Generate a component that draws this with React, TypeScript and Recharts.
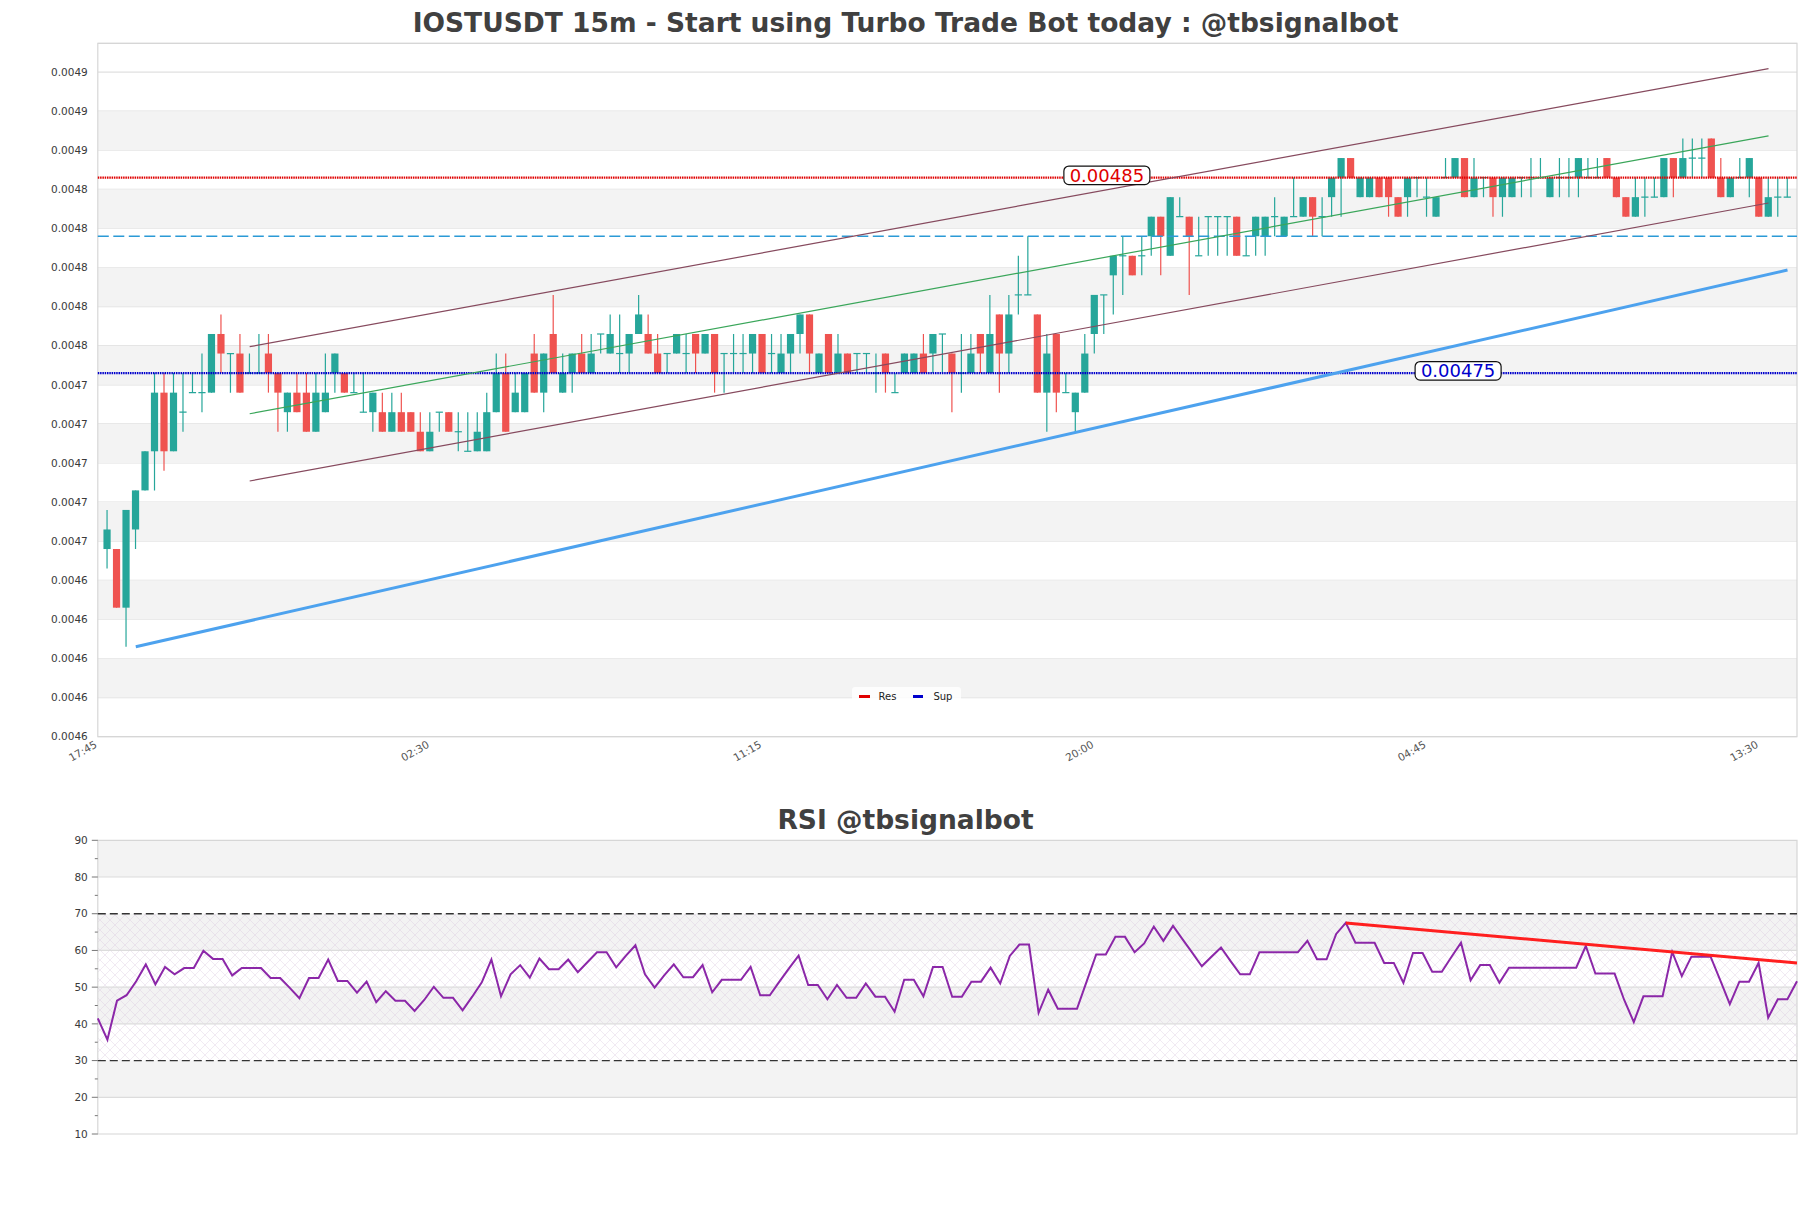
import React from 'react';
import {
  ComposedChart,
  Bar,
  Line,
  XAxis,
  YAxis,
  CartesianGrid,
  ReferenceLine,
  ReferenceArea,
  ReferenceDot,
  Legend,
} from 'recharts';

const W = 1811;

// 15m candles, prices in units of 0.00001 USDT
const opens = [
  466, 466, 463, 467, 469, 471, 474, 471, 473, 474,
  474, 474, 477, 476, 476, 475, 475, 476, 475, 473,
  474, 474, 472, 473, 475, 475, 474, 473, 473, 473,
  472, 473, 473, 472, 471, 473, 473, 472, 471, 471,
  471, 473, 475, 473, 473, 476, 474, 477, 474, 475,
  476, 475, 477, 476, 476, 476, 477, 477, 476, 476,
  476, 476, 477, 476, 477, 476, 476, 476, 476, 477,
  476, 475, 476, 477, 478, 475, 477, 475, 476, 476,
  476, 475, 476, 474, 475, 475, 476, 476, 477, 476,
  475, 475, 477, 475, 478, 476, 479, 479, 478, 474,
  477, 474, 473, 474, 477, 479, 480, 481, 481, 481,
  482, 483, 481, 483, 483, 481, 483, 483, 483, 483,
  481, 482, 482, 483, 482, 483, 483, 484, 483, 484,
  485, 486, 484, 484, 485, 485, 484, 484, 485, 484,
  483, 485, 485, 486, 484, 485, 485, 484, 484, 485,
  485, 485, 484, 485, 485, 485, 485, 485, 486, 485,
  484, 483, 484, 484, 484, 486, 485, 486, 486, 487,
  485, 484, 485, 485, 485, 483, 484, 484,
];
const highs = [
  468, 466, 468, 469, 471, 475, 475, 475, 475, 475,
  476, 477, 478, 476, 477, 476, 477, 477, 475, 474,
  475, 475, 475, 476, 476, 475, 475, 475, 474, 474,
  474, 474, 473, 473, 473, 473, 473, 473, 473, 473,
  474, 476, 476, 475, 475, 477, 476, 479, 476, 476,
  477, 477, 477, 478, 478, 477, 479, 478, 477, 476,
  477, 477, 477, 477, 477, 476, 477, 477, 477, 477,
  477, 477, 477, 478, 478, 476, 477, 477, 476, 476,
  476, 476, 476, 475, 476, 476, 477, 477, 477, 476,
  477, 477, 477, 479, 478, 479, 481, 482, 478, 477,
  477, 475, 474, 477, 479, 479, 481, 482, 481, 482,
  483, 483, 484, 484, 483, 483, 483, 483, 483, 483,
  482, 483, 483, 484, 483, 485, 484, 484, 484, 485,
  486, 486, 485, 485, 485, 485, 484, 485, 485, 485,
  484, 486, 486, 486, 486, 485, 485, 485, 485, 485,
  486, 486, 485, 486, 486, 486, 486, 486, 486, 485,
  484, 485, 485, 485, 486, 486, 487, 487, 487, 487,
  486, 485, 486, 486, 485, 485, 485, 485,
];
const lows = [
  465, 463, 461, 466, 469, 469, 470, 471, 472, 474,
  473, 474, 475, 474, 474, 475, 475, 474, 472, 472,
  473, 472, 472, 473, 474, 474, 474, 473, 472, 472,
  472, 472, 472, 471, 471, 472, 472, 471, 471, 471,
  471, 473, 472, 473, 473, 474, 473, 475, 474, 474,
  475, 475, 476, 476, 475, 475, 477, 476, 475, 475,
  476, 475, 475, 476, 474, 474, 475, 475, 475, 475,
  475, 475, 475, 476, 475, 475, 475, 475, 475, 475,
  475, 474, 474, 474, 475, 475, 475, 475, 475, 473,
  474, 475, 475, 475, 474, 475, 478, 479, 474, 472,
  473, 474, 472, 474, 476, 477, 478, 479, 480, 480,
  481, 480, 481, 483, 479, 481, 481, 481, 481, 481,
  481, 481, 481, 482, 482, 483, 483, 482, 482, 483,
  483, 485, 484, 484, 484, 483, 483, 483, 484, 483,
  483, 485, 485, 484, 484, 484, 483, 483, 484, 484,
  484, 485, 484, 484, 484, 484, 485, 485, 485, 484,
  483, 483, 483, 484, 484, 484, 485, 485, 485, 485,
  484, 484, 485, 484, 483, 483, 483, 484,
];
const closes = [
  467, 463, 468, 469, 471, 474, 471, 474, 473, 474,
  474, 477, 476, 476, 474, 475, 475, 475, 474, 474,
  473, 472, 474, 474, 476, 474, 474, 473, 474, 472,
  473, 472, 472, 471, 472, 473, 472, 472, 471, 472,
  473, 475, 472, 474, 475, 474, 476, 475, 475, 476,
  475, 476, 477, 477, 476, 477, 478, 476, 475, 476,
  477, 476, 476, 477, 475, 476, 476, 476, 477, 475,
  476, 476, 477, 478, 476, 476, 475, 476, 475, 476,
  476, 475, 475, 474, 476, 476, 475, 477, 477, 475,
  475, 476, 476, 477, 476, 478, 479, 479, 474, 476,
  474, 474, 474, 476, 479, 479, 481, 481, 480, 481,
  483, 482, 484, 483, 482, 481, 483, 483, 483, 481,
  481, 483, 483, 483, 483, 483, 484, 483, 483, 485,
  486, 485, 485, 485, 484, 484, 483, 485, 485, 484,
  484, 485, 486, 484, 485, 485, 484, 485, 485, 485,
  485, 485, 485, 485, 485, 486, 485, 485, 485, 484,
  483, 484, 484, 484, 486, 485, 486, 486, 486, 485,
  484, 485, 485, 486, 483, 484, 484, 484,
];

const rsiValues = [
  41.5, 35.7, 46.3, 47.8, 51.6, 56.2, 50.8, 55.5, 53.5, 55.2,
  55.2, 59.9, 57.7, 57.7, 53.2, 55.2, 55.2, 55.2, 52.5, 52.5,
  49.8, 47.0, 52.5, 52.5, 57.5, 51.7, 51.7, 48.5, 51.5, 45.9,
  48.9, 46.3, 46.3, 43.5, 46.5, 50.1, 47.1, 47.1, 43.7, 47.4,
  51.3, 57.5, 47.5, 53.5, 56.0, 52.6, 57.8, 54.9, 54.9, 57.5,
  54.1, 56.8, 59.5, 59.5, 55.4, 58.5, 61.4, 53.5, 49.9, 53.2,
  56.2, 52.7, 52.7, 56.0, 48.6, 52.0, 52.0, 52.0, 55.5, 47.8,
  47.8, 51.5, 55.1, 58.6, 50.6, 50.6, 46.7, 50.6, 47.1, 47.1,
  51.0, 47.4, 47.4, 43.3, 52.0, 52.0, 47.5, 55.5, 55.5, 47.4,
  47.4, 51.5, 51.5, 55.3, 51.0, 58.5, 61.6, 61.6, 43.0, 49.3,
  44.1, 44.1, 44.1, 51.5, 58.9, 58.9, 63.7, 63.7, 59.5, 61.9,
  66.5, 62.6, 66.7, 63.0, 59.4, 55.7, 58.3, 60.8, 57.1, 53.5,
  53.5, 59.5, 59.5, 59.5, 59.5, 59.5, 62.6, 57.6, 57.6, 64.5,
  67.5, 62.1, 62.1, 62.1, 56.6, 56.6, 51.2, 59.3, 59.3, 54.2,
  54.2, 58.2, 62.1, 51.9, 56.0, 56.0, 51.2, 55.3, 55.3, 55.3,
  55.3, 55.3, 55.3, 55.3, 55.3, 61.2, 53.7, 53.7, 53.7, 46.5,
  40.5, 47.5, 47.5, 47.5, 59.6, 53.0, 58.3, 58.3, 58.3, 51.9,
  45.4, 51.5, 51.5, 56.6, 41.7, 46.7, 46.7, 51.6,
];

const timeTicks = [-1, 34, 69, 104, 139, 174];
const timeLabels = ['17:45', '02:30', '11:15', '20:00', '04:45', '13:30'];
const priceTicks = [
  0.004564, 0.004584, 0.004604, 0.004624, 0.004644, 0.004664,
  0.004684, 0.004704, 0.004724, 0.004744, 0.004764, 0.004784,
  0.004804, 0.004824, 0.004844, 0.004864, 0.004884, 0.004904,
];
const priceDomain = [0.004564, 0.0049187];
const rsiTicks = [10, 15, 20, 25, 30, 35, 40, 45, 50, 55, 60, 65, 70, 75, 80, 85, 90];

const resistance = 0.00485;
const support = 0.00475;
const pivot = 0.00482;

const upperChannel = [{ x: 15, y: 0.0047635 }, { x: 175, y: 0.0049057 }];
const midChannel = [{ x: 15, y: 0.0047292 }, { x: 175, y: 0.0048713 }];
const lowerChannel = [{ x: 15, y: 0.0046948 }, { x: 175, y: 0.004837 }];
const supportTrend = [{ x: 3, y: 0.00461 }, { x: 177, y: 0.0048027 }];
const rsiTrend = [{ x: 130, y: 67.5 }, { x: 177, y: 56.6 }];

const candles = opens.map((o, i) => ({
  i,
  o: o / 1e5,
  h: highs[i] / 1e5,
  l: lows[i] / 1e5,
  c: closes[i] / 1e5,
  range: [lows[i] / 1e5, highs[i] / 1e5],
}));

const rsiData = rsiValues.map((v, i) => ({ i, v }));

const UP = '#26a69a';
const DOWN = '#ef5350';

const Candle = (props: any) => {
  const { x, y, width, height, payload } = props;
  if (x == null || y == null) return null;
  const top = Math.min(y, y + height);
  const hgt = Math.abs(height);
  const { o, h, l, c } = payload;
  const span = h - l;
  const py = (v: number) => (span === 0 ? top : top + ((h - v) / span) * hgt);
  const color = c >= o ? UP : DOWN;
  const cx = x + width / 2;
  const bw = 7.2;
  const b1 = py(Math.max(o, c));
  const b2 = py(Math.min(o, c));
  return (
    <g>
      <line x1={cx} x2={cx} y1={top} y2={top + hgt} stroke={color} strokeWidth={1.2} />
      {b2 - b1 < 1 ? (
        <line x1={cx - bw / 2} x2={cx + bw / 2} y1={b1} y2={b1} stroke={color} strokeWidth={1.2} />
      ) : (
        <rect x={cx - bw / 2} y={b1} width={bw} height={b2 - b1} fill={color} />
      )}
    </g>
  );
};

const TimeTick = (props: any) => {
  const { x, y, payload } = props;
  const label = timeLabels[timeTicks.indexOf(payload.value)];
  return (
    <text
      x={x}
      y={y}
      transform={`rotate(-30 ${x} ${y})`}
      textAnchor="end"
      fontSize={10.5}
      fill="#555"
    >
      {label}
    </text>
  );
};

const RsiTick = (props: any) => {
  const { x, y, payload } = props;
  const major = payload.value % 10 === 0;
  return (
    <g>
      <line x1={x + (major ? 4 : 7)} x2={x + 10} y1={y} y2={y} stroke="#777" strokeWidth={1} />
      {major && (
        <text x={x} y={y} dy="0.355em" textAnchor="end" fontSize={10.5} fill="#3a3a3a">
          {payload.value}
        </text>
      )}
    </g>
  );
};

const PriceTag = ({ cx, cy, text, color }: any) => {
  const w = 86;
  const h = 18.5;
  const my = cy - 2.3;
  return (
    <g>
      <rect x={cx - w / 2} y={my - h / 2} width={w} height={h} rx={5} ry={5} fill="#fff" stroke="#111" strokeWidth={1.2} />
      <text x={cx} y={my + 6.6} textAnchor="middle" fontSize={18} fill={color}>
        {text}
      </text>
    </g>
  );
};

const LegendBox = () => (
  <div
    style={{
      display: 'flex',
      alignItems: 'center',
      height: 19,
      background: 'rgba(255,255,255,0.8)',
      borderRadius: 3,
      fontSize: 10,
      color: '#222',
    }}
  >
    <span style={{ display: 'inline-block', width: 11, height: 2.5, background: '#e00000', marginLeft: 6.5 }} />
    <span style={{ marginLeft: 9 }}>Res</span>
    <span style={{ display: 'inline-block', width: 10, height: 2.5, background: '#0000cc', marginLeft: 17 }} />
    <span style={{ marginLeft: 10 }}>Sup</span>
  </div>
);

const titleStyle: React.CSSProperties = {
  position: 'absolute',
  left: 0,
  width: W,
  textAlign: 'center',
  fontSize: 26.5,
  lineHeight: '30px',
  fontWeight: 'bold',
  color: '#404040',
};

export default function App() {
  const priceBands = [];
  for (let k = 1; k < priceTicks.length - 1; k += 2) {
    priceBands.push([priceTicks[k], priceTicks[k + 1]]);
  }
  const rsiBands = [[80, 90], [60, 70], [40, 50], [20, 30]];

  return (
    <div
      style={{
        position: 'absolute',
        left: 0,
        top: 0,
        width: W,
        height: 1208,
        background: '#fff',
        fontFamily: '"DejaVu Sans", sans-serif',
        overflow: 'hidden',
      }}
    >
      <div style={{ ...titleStyle, top: 7.5 }}>IOSTUSDT 15m - Start using Turbo Trade Bot today : @tbsignalbot</div>
      <div style={{ ...titleStyle, top: 805 }}>RSI @tbsignalbot</div>

      <div style={{ position: 'absolute', left: 0, top: 0 }}>
        <ComposedChart width={W} height={770} data={candles} margin={{ top: 43.3, right: 14, bottom: 0, left: 0 }}>
          {priceBands.map(([a, b], k) => (
            <ReferenceArea key={`pb${k}`} y1={a} y2={b} fill="#f3f3f3" fillOpacity={1} stroke="none" ifOverflow="visible" />
          ))}
          <CartesianGrid horizontal vertical={false} stroke="#e0e0e0" strokeWidth={1.2} />
          <XAxis
            type="number"
            dataKey="i"
            domain={[-1, 178]}
            ticks={timeTicks}
            interval={0}
            tick={<TimeTick />}
            tickLine={false}
            axisLine={false}
            tickMargin={4}
            height={33.3}
            allowDataOverflow
          />
          <YAxis
            type="number"
            domain={priceDomain}
            ticks={priceTicks}
            interval={0}
            tickFormatter={(v: number) => v.toFixed(4)}
            width={97.8}
            tickLine={false}
            axisLine={false}
            tickMargin={4}
            tick={{ fontSize: 10.5, fill: '#3a3a3a' }}
            allowDataOverflow
          />
          <ReferenceArea
            x1={-1}
            x2={178}
            y1={priceDomain[0]}
            y2={priceDomain[1]}
            fill="none"
            stroke="#d6d6d6"
            strokeWidth={1.2}
            ifOverflow="visible"
          />
          <ReferenceLine y={pivot} stroke="#2b9ad6" strokeDasharray="11 4.5" strokeWidth={1.3} />
          <ReferenceLine y={resistance} stroke="#e00000" strokeDasharray="1.5 0.8" strokeWidth={2.4} />
          <ReferenceLine y={support} stroke="#0000cc" strokeDasharray="1.5 0.8" strokeWidth={2.4} />
          <ReferenceLine segment={supportTrend} stroke="#4da2ee" strokeWidth={3} ifOverflow="visible" />
          <ReferenceLine segment={upperChannel} stroke="#864a5e" strokeWidth={1.2} ifOverflow="visible" />
          <ReferenceLine segment={lowerChannel} stroke="#864a5e" strokeWidth={1.2} ifOverflow="visible" />
          <ReferenceLine segment={midChannel} stroke="#3aa65a" strokeWidth={1.2} ifOverflow="visible" />
          <Bar dataKey="range" barSize={7} shape={<Candle />} isAnimationActive={false} />
          <ReferenceDot
            x={105.3}
            y={resistance}
            shape={(p: any) => <PriceTag cx={p.cx} cy={p.cy} text={resistance.toFixed(5)} color="#e00000" />}
          />
          <ReferenceDot
            x={142.3}
            y={support}
            shape={(p: any) => <PriceTag cx={p.cx} cy={p.cy} text={support.toFixed(5)} color="#0000cc" />}
          />
          <Legend
            verticalAlign="middle"
            align="center"
            layout="horizontal"
            wrapperStyle={{ left: 852, top: 687, width: 109, height: 19 }}
            content={() => <LegendBox />}
          />
        </ComposedChart>
      </div>

      <div style={{ position: 'absolute', left: 0, top: 770 }}>
        <ComposedChart width={W} height={438} data={rsiData} margin={{ top: 70.3, right: 14, bottom: 74, left: 0 }}>
          <defs>
            <pattern id="rsiHatch" width="10" height="10" patternUnits="userSpaceOnUse">
              <path d="M0,0 L10,10 M10,0 L0,10" stroke="#d4bfdc" strokeWidth={0.6} />
            </pattern>
          </defs>
          {rsiBands.map(([a, b], k) => (
            <ReferenceArea key={`rb${k}`} y1={a} y2={b} fill="#f3f3f3" fillOpacity={1} stroke="none" ifOverflow="visible" />
          ))}
          <ReferenceArea y1={30} y2={70} fill="url(#rsiHatch)" fillOpacity={0.55} stroke="none" ifOverflow="visible" />
          {[20, 40, 50, 60, 80].map((v) => (
            <ReferenceLine key={`g${v}`} y={v} stroke="#dcdcdc" strokeWidth={1.2} />
          ))}
          <XAxis type="number" dataKey="i" domain={[0, 177]} hide />
          <YAxis
            type="number"
            domain={[10, 90]}
            ticks={rsiTicks}
            interval={0}
            width={97.8}
            tick={<RsiTick />}
            tickLine={false}
            axisLine={false}
            tickMargin={4}
          />
          <ReferenceArea x1={0} x2={177} y1={10} y2={90} fill="none" stroke="#d6d6d6" strokeWidth={1.2} ifOverflow="visible" />
          <ReferenceLine y={70} stroke="#333" strokeDasharray="8 4" strokeWidth={1.3} />
          <ReferenceLine y={30} stroke="#333" strokeDasharray="8 4" strokeWidth={1.3} />
          <Line dataKey="v" type="linear" stroke="#8b27a8" strokeWidth={2} dot={false} isAnimationActive={false} />
          <ReferenceLine segment={rsiTrend} stroke="#ff1f1f" strokeWidth={3} ifOverflow="visible" />
        </ComposedChart>
      </div>
    </div>
  );
}
